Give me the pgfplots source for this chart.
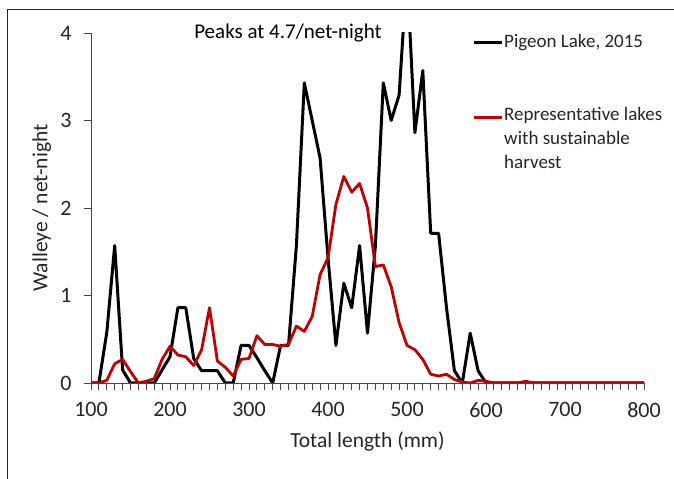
\documentclass[border=0pt]{standalone}
\usepackage{pgfplots}
\pgfplotsset{compat=1.18}
\usepackage{pgfplotstable}
\usepackage{fontspec}
\setmainfont{Carlito}
\definecolor{xlred}{RGB}{192,0,0}
\definecolor{axgray}{RGB}{70,70,70}

\pgfplotstableread{
x y
100 0
110 0
120 0.58
130 1.57
140 0.15
150 0
160 0
170 0
180 0
190 0.15
200 0.30
210 0.86
220 0.86
230 0.28
240 0.14
250 0.14
260 0.14
270 0
280 0
290 0.43
300 0.43
310 0.29
320 0.14
330 0
340 0.43
350 0.43
360 1.57
370 3.43
380 3.00
390 2.57
400 1.43
410 0.43
420 1.14
430 0.86
440 1.57
450 0.57
460 1.57
470 3.43
480 3.00
490 3.29
500 4.70
510 2.86
520 3.57
530 1.71
540 1.71
550 0.86
560 0.14
570 0
580 0.57
590 0.14
600 0
610 0
620 0
630 0
640 0
650 0
660 0
670 0
680 0
690 0
700 0
710 0
720 0
730 0
740 0
750 0
760 0
770 0
780 0
790 0
800 0
}\pigeon

\pgfplotstableread{
x y
100 0
110 0
120 0.03
130 0.22
140 0.27
150 0.13
160 0
170 0.02
180 0.05
190 0.27
200 0.42
210 0.32
220 0.30
230 0.20
240 0.38
250 0.86
260 0.25
270 0.18
280 0.08
290 0.27
300 0.28
310 0.54
320 0.44
330 0.44
340 0.42
350 0.44
360 0.65
370 0.59
380 0.76
390 1.24
400 1.43
410 2.04
420 2.36
430 2.18
440 2.28
450 2.00
460 1.33
470 1.35
480 1.10
490 0.69
500 0.43
510 0.38
520 0.27
530 0.10
540 0.08
550 0.10
560 0.04
570 0.01
580 0
590 0.03
600 0.02
610 0
620 0
630 0
640 0
650 0.02
660 0
670 0
680 0
690 0
700 0
710 0
720 0
730 0
740 0
750 0
760 0
770 0
780 0
790 0
800 0
}\reference

\begin{document}
\begin{tikzpicture}[x=1bp,y=1bp]
\useasboundingbox (0,0) rectangle (674,479);
\fill[white] (0,0) rectangle (674,479);
\draw[black!85, line width=1bp] (7,0) -- (7,469) -- (674,469);
\begin{axis}[
  at={(91bp,96bp)}, anchor=south west,
  width=553bp, height=350bp, scale only axis,
  xmin=100, xmax=800, ymin=0, ymax=4,
  axis lines=left,
  axis line style={-, axgray, line width=0.9bp},
  xtick={100,200,...,800},
  minor xtick={100,110,...,800},
  ytick={0,1,2,3,4},
  tick align=outside,
  major tick length=7bp, minor tick length=7bp,
  every tick/.style={axgray, line width=0.9bp},
  tick label style={font=\fontsize{22bp}{26bp}\selectfont, text=black!85},
  /pgf/number format/assume math mode=true,
  /pgf/number format/1000 sep={},
  xticklabel style={anchor=north, yshift=-9bp},
  yticklabel style={anchor=east, xshift=-9bp},
  xlabel={Total length (mm)},
  ylabel={Walleye / net-night},
  label style={font=\fontsize{21.5bp}{26bp}\selectfont, text=black!85},
  xlabel style={at={(axis description cs:0.5,-0.166)}, anchor=center},
  ylabel style={at={(axis description cs:-0.089,0.5)}, anchor=center, rotate=0},
  clip=true,
]
\addplot[black, line width=3bp, line join=round] table[x=x,y=y] {\pigeon};
\addplot[xlred, line width=2.8bp, line join=round] table[x=x,y=y] {\reference};
\end{axis}
\node[font=\fontsize{21bp}{24bp}\selectfont, text=black] at (288,446) {Peaks at 4.7/net-night};
\draw[black, line width=3bp] (474,436) -- (502,436);
\node[anchor=west, inner sep=1bp, font=\fontsize{19bp}{24bp}\selectfont, text=black!85] at (503,436) {Pigeon Lake, 2015};
\draw[xlred, line width=3bp] (474,361) -- (502,361);
\node[anchor=north west, inner sep=1bp, align=left, font=\fontsize{19bp}{24bp}\selectfont, text=black!85] at (503,373) {Representative lakes\\with sustainable\\harvest};
\end{tikzpicture}
\end{document}
